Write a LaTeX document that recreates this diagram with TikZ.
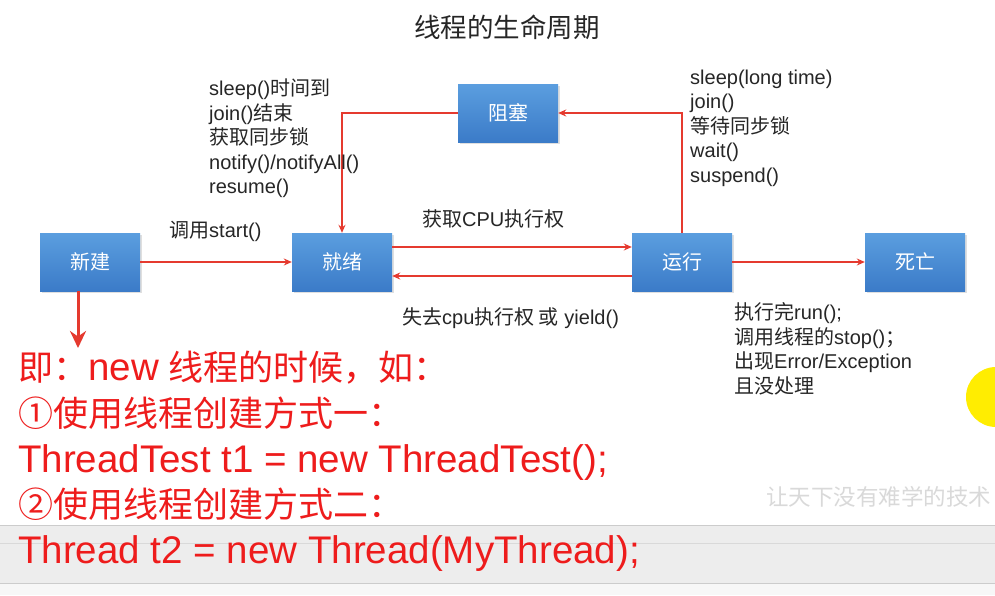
\documentclass[tikz,border=0pt]{standalone}
\usepackage{fontspec}
\setmainfont{Liberation Sans}
\newfontfamily\cjk{Noto Sans CJK SC}
\newcommand\zh[1]{{\cjk #1}}
\newcommand\redlat[1]{{\fontsize{38.5}{45.7}\selectfont #1}}
\usetikzlibrary{arrows.meta,shadows}
\definecolor{boxtop}{HTML}{5B9EDF}
\definecolor{boxbot}{HTML}{3B7BC8}
\definecolor{arrred}{HTML}{E53A2F}
\definecolor{txtred}{HTML}{EE1C1C}
\definecolor{txt}{HTML}{262626}
\begin{document}
\begin{tikzpicture}[x=1pt,y=-1pt,
  state/.style={rectangle, minimum width=100pt, minimum height=58pt, top color=boxtop, bottom color=boxbot,
    draw=none, text=white, font=\cjk\fontsize{20}{22}\selectfont,
    drop shadow={opacity=0.25, shadow xshift=1.5pt, shadow yshift=-2pt}},
  arr/.style={draw=arrred, line width=1.5pt, -{Stealth[length=8pt,width=7pt]}},
  lbl/.style={anchor=west, align=left, inner sep=0pt, text=txt, font=\fontsize{20}{24.5}\selectfont},
  red/.style={anchor=west, align=left, inner sep=0pt, text=txtred, font=\fontsize{35}{45.7}\selectfont}]
\useasboundingbox (0,0) rectangle (995,595);
\fill[white] (0,0) rectangle (995,595);
% bottom UI band
\fill[gray!14] (0,525) rectangle (995,583);
\fill[gray!6] (0,583) rectangle (995,595);
\draw[gray!40, line width=0.8pt] (0,525) -- (995,525);
\draw[gray!30, line width=0.6pt] (0,543) -- (995,543);
\draw[gray!40, line width=0.8pt] (0,583) -- (995,583);
% yellow cursor highlight
\fill[yellow!95!orange] (996,397) circle (30);
% watermark
\node[anchor=west, inner sep=0pt, text=gray!30, font=\cjk\fontsize{22.5}{26}\selectfont] (wm) at (766,497) {让天下没有难学的技术};
% title
\node[inner sep=0pt, text=txt, font=\cjk\fontsize{26.5}{30}\selectfont] (title) at (507,27) {线程的生命周期};
% states
\node[state] (new) at (90,262) {新建};
\node[state] (ready) at (342,262) {就绪};
\node[state] (block) at (508,113) {阻塞};
\node[state] (run) at (682,262) {运行};
\node[state] (dead) at (915,262) {死亡};
% connectors
\draw[arr] (new) -- (ready);
\draw[arr] ([yshift=15pt]ready.east) -- ([yshift=15pt]run.west);
\draw[arr] ([yshift=-14pt]run.west) -- ([yshift=-14pt]ready.east);
\draw[arr] (block.west) -| (ready.north);
\draw[arr] (run.north) |- (block.east);
\draw[arr] (run) -- (dead);
\coordinate (newdown) at (78,348);
\draw[draw=arrred, line width=3pt, -{Stealth[length=17pt,width=16pt]}] ([xshift=-12pt]new.south) -- (newdown);
% labels
\node[lbl] (lstart) at (169,231) {\zh{调用}start()};
\node[lbl] (lget) at (422,219) {\zh{获取}CPU\zh{执行权}};
\node[lbl] (llose) at (402,318) {\zh{失去}cpu\zh{执行权 或} yield()};
\node[lbl] (lwake) at (209,138.5) {sleep()\zh{时间到}\\join()\zh{结束}\\\zh{获取同步锁}\\notify()/notifyAll()\\resume()};
\node[lbl] (lblock) at (690,128) {sleep(long time)\\join()\\\zh{等待同步锁}\\wait()\\suspend()};
\node[lbl] (ldead) at (734,349) {\zh{执行完}run();\\\zh{调用线程的}stop()\zh{；}\\\zh{出现}Error/Exception\\\zh{且没处理}};
% red notes
\node[red] (note) at (18,461.5) {\zh{即：}\redlat{new} \zh{线程的时候，如：}\\\zh{①使用线程创建方式一：}\\\redlat{ThreadTest t1 = new ThreadTest();}\\\zh{②使用线程创建方式二：}\\\redlat{Thread t2 = new Thread(MyThread);}};
\end{tikzpicture}
\end{document}
